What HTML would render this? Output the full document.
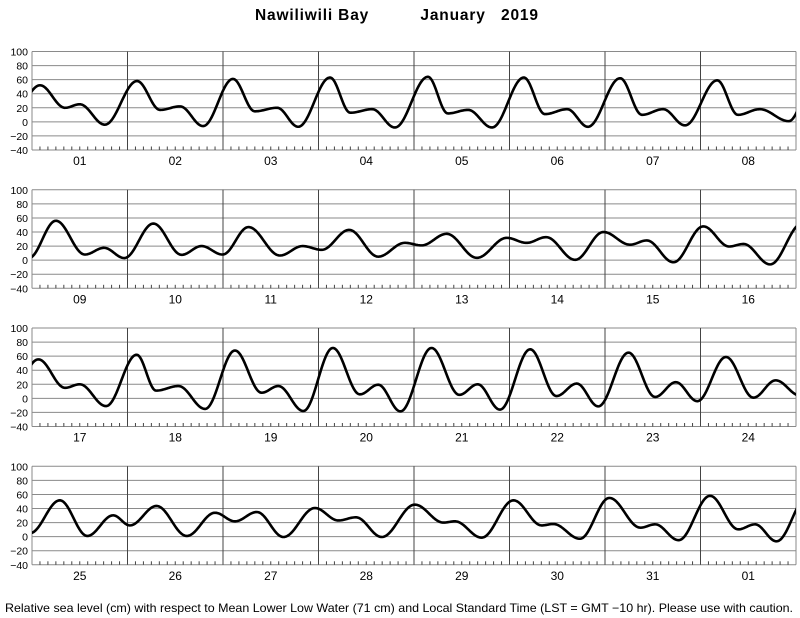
<!DOCTYPE html>
<html><head><meta charset="utf-8"><style>
html,body{margin:0;padding:0;background:#fff}
svg{display:block}
text{font-family:"Liberation Sans",Arial,sans-serif}
</style></head><body>
<svg id="chart" width="800" height="618" viewBox="0 0 800 618" xmlns="http://www.w3.org/2000/svg">
<text x="396.5" y="20" text-anchor="middle" font-size="15.5" font-weight="bold" textLength="283" lengthAdjust="spacing" xml:space="preserve">Nawiliwili Bay          January   2019</text>
<text x="399" y="612" text-anchor="middle" font-size="11.8" textLength="788" lengthAdjust="spacingAndGlyphs">Relative sea level (cm) with respect to Mean Lower Low Water (71 cm) and Local Standard Time (LST = GMT −10 hr). Please use with caution.</text>
</svg>
<script>
// Y-axis ticks
const yTicks = [100, 80, 60, 40, 20, 0, -20, -40];
const yTickLabels = ["100","80","60","40","20","0","\u221220","\u221240"];
// Day labels per panel
const dayLabels1 = ["01","02","03","04","05","06","07","08"];
const dayLabels2 = ["09","10","11","12","13","14","15","16"];
const dayLabels3 = ["17","18","19","20","21","22","23","24"];
const dayLabels4 = ["25","26","27","28","29","30","31","01"];
// Extreme times (hours from panel start) and heights (cm)
const times1 = [-4,2,8.3,12,18.3,26.4,32.2,37.2,43,50.5,56,61.6,66.9,74.9,80,85.5,91.2,99.5,104.5,109.6,115.6,123.6,128.9,134.5,139.7,147.8,153.3,158.6,164.1,172.2,177.4,182.9,190.2,196];
const heights1 = [20,52,20,25,-4,58,17,22,-6,61,15,20,-7,63,13,18,-8,64,12,17,-8,63,11,18,-7,62,10,18,-5,59,10,18,1,50];
const times2 = [-0.8,6,13.3,18.1,23.2,30.5,37.6,42.6,47.9,54.4,62.3,68,72.8,79.7,87,93.7,97.9,104.2,111.8,119.3,124.3,129.2,136.5,143.6,150.3,154.5,161.2,168.7,175.2,178.8,185.5,193.5];
const heights2 = [3,56,8,17.5,3,52,7.6,20,8,47,6.6,20,14.7,43,5,24.6,21,37.4,3.3,31.7,24.6,32.7,0.5,40,22,28,-3,48,19.4,23,-6,52];
const times3 = [-4.5,1.6,8.3,12,18.6,26.3,31.2,36.8,43.5,51,57.7,61.9,68.2,75.6,82.4,87,92.6,100.4,107.4,112,117.6,125.2,131.8,136.9,142.3,149.9,156.6,161.8,167.2,174.4,181.3,186.9,193];
const heights3 = [18,55.4,15,20,-11,62,11,17.5,-15,68,8,17.5,-18,71.6,5.7,19.4,-18.5,71.6,5,20,-16,69.7,3.3,21,-11.4,65,2,23,-4,58.8,1,25.6,4];
const times4 = [-0.5,7,13.9,20.4,24.6,31.3,38.9,46,51,56.5,63.2,71.1,77,81.4,87.9,96.2,103.4,106.3,113,121,128.1,131,137.7,145.1,152.9,156.6,162.5,170.4,177.5,181.7,187.1,195];
const heights4 = [5,51.6,1,30.3,16,43.6,1,34,21.8,35,-0.5,40.7,23,27.5,-0.5,45.5,20,21.8,-1.4,51.6,16,18,-3,55,12.8,17.5,-5,58,10.4,17.5,-6.6,58];

const panelTops = [51.5, 189.8, 328, 466.3];
const NS = "http://www.w3.org/2000/svg";
const svg = document.getElementById("chart");
const X0 = 32, DAYW = 95.5, PH = 98.5, YMIN = -40, YMAX = 100;
function mk(tag, attrs, parent){ const e=document.createElementNS(NS,tag); for(const k in attrs) e.setAttribute(k,attrs[k]); (parent||svg).appendChild(e); return e; }
function xScale(h){ return X0 + h/24*DAYW; }
function yScale(top, v){ return top + (YMAX - v)/(YMAX-YMIN)*PH; }
function interp(times, heights, h){
  for(let i=0;i<times.length-1;i++){
    if(h>=times[i] && h<=times[i+1]){
      const f=(h-times[i])/(times[i+1]-times[i]);
      const c=(1-Math.cos(Math.PI*f))/2;
      return heights[i]+(heights[i+1]-heights[i])*c;
    }
  }
  return h<times[0]?heights[0]:heights[heights.length-1];
}
const panels = [[times1,heights1,dayLabels1],[times2,heights2,dayLabels2],[times3,heights3,dayLabels3],[times4,heights4,dayLabels4]];
panels.forEach((p, pi) => {
  const top = panelTops[pi];
  const bottom = top + PH;
  const g = mk("g", {});
  
  
  const clipId = "clip"+pi;
  const cp = mk("clipPath", {id: clipId}, g);
  mk("rect", {x: X0, y: top, width: 8*DAYW, height: PH}, cp);
  yTicks.forEach((v, i) => {
    const y = yScale(top, v);
    const ln = mk("line", {x1: X0, x2: X0+8*DAYW, y1: y, y2: y, stroke: "#8a8a8a", "stroke-width": 1}, g);
    
    
    const t = mk("text", {x: 28, y: y+4, "text-anchor": "end", "font-size": 10.5}, g);
    t.textContent = yTickLabels[i];
    
    
  });
  for (let d = 0; d <= 8; d++) {
    const x = xScale(d*24);
    const ln = mk("line", {x1: x, x2: x, y1: top, y2: bottom, stroke: (d===0||d===8)?"#8a8a8a":"#444", "stroke-width": 1}, g);
    
    
  }
  for (let h = 2; h < 192; h += 2) {
    if (h % 24 === 0) continue;
    const x = xScale(h);
    const tk = mk("line", {x1: x, x2: x, y1: bottom, y2: bottom-3.5, stroke: "#444", "stroke-width": 1}, g);
    
    
  }
  p[2].forEach((lab, d) => {
    const t = mk("text", {x: xScale(d*24+12), y: bottom+15, "text-anchor": "middle", "font-size": 12}, g);
    t.textContent = lab;
    
    
  });
  let dstr = "";
  for (let h = -1; h <= 193; h += 0.25) {
    const v = interp(p[0], p[1], h);
    dstr += (dstr ? "L" : "M") + xScale(h).toFixed(2) + "," + yScale(top, v).toFixed(2);
  }
  const path = mk("path", {d: dstr, fill: "none", stroke: "#000", "stroke-width": 2.6, "stroke-linejoin": "round", "clip-path": "url(#"+clipId+")"}, g);
  
  
});
</script>
</body></html>
